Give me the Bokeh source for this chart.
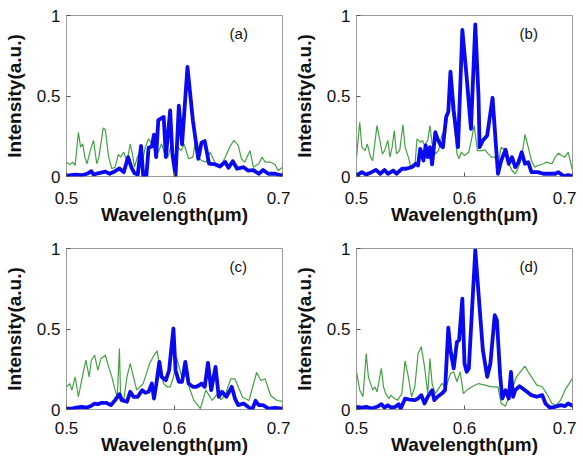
from bokeh.plotting import figure
from bokeh.models import Range1d, FixedTicker, Label
from bokeh.layouts import gridplot
from bokeh.embed import file_html
from bokeh.resources import INLINE

# ---------------- data ----------------
x_ticks = [0.5, 0.6, 0.7]
y_ticks = [0, 0.5, 1]
panel_tags = ["(a)", "(b)", "(c)", "(d)"]

a_blue_x = [0.500,0.508,0.514,0.519,0.523,0.525,0.529,0.536,0.540,0.545,0.549,0.553,0.557,0.560,0.563,0.566,0.569,0.571,0.574,0.576,0.579,0.581,0.583,0.585,0.590,0.592,0.596,0.598,0.601,0.604,0.607,0.612,0.617,0.622,0.625,0.628,0.632,0.638,0.642,0.647,0.650,0.654,0.658,0.664,0.668,0.673,0.678,0.682,0.687,0.693,0.700]
a_blue_y = [0.006,0.012,0.008,0.017,0.033,0.012,0.020,0.030,0.017,0.033,0.050,0.027,0.120,0.058,0.020,0.012,0.190,0.006,0.008,0.178,0.186,0.260,0.120,0.350,0.370,0.120,0.410,0.140,0.006,0.440,0.200,0.680,0.350,0.110,0.210,0.220,0.080,0.075,0.062,0.090,0.054,0.095,0.048,0.058,0.037,0.040,0.017,0.040,0.017,0.017,0.006]
a_green_x = [0.500,0.503,0.506,0.508,0.511,0.513,0.515,0.517,0.519,0.522,0.525,0.528,0.530,0.534,0.536,0.539,0.542,0.545,0.548,0.550,0.553,0.556,0.559,0.561,0.563,0.566,0.570,0.573,0.576,0.578,0.582,0.585,0.588,0.591,0.594,0.597,0.600,0.603,0.606,0.609,0.613,0.617,0.619,0.621,0.625,0.629,0.633,0.638,0.642,0.647,0.651,0.655,0.659,0.662,0.665,0.670,0.673,0.678,0.681,0.684,0.689,0.693,0.696,0.700]
a_green_y = [0.089,0.075,0.089,0.068,0.275,0.182,0.203,0.120,0.079,0.161,0.224,0.079,0.120,0.302,0.290,0.120,0.048,0.058,0.137,0.120,0.151,0.089,0.203,0.141,0.058,0.130,0.089,0.182,0.234,0.213,0.182,0.151,0.203,0.141,0.120,0.203,0.120,0.182,0.161,0.199,0.110,0.120,0.203,0.130,0.099,0.089,0.151,0.079,0.054,0.120,0.182,0.224,0.193,0.110,0.089,0.161,0.058,0.079,0.120,0.089,0.089,0.075,0.037,0.058]

b_blue_x = [0.500,0.505,0.509,0.514,0.518,0.522,0.526,0.529,0.534,0.537,0.542,0.546,0.551,0.555,0.557,0.559,0.562,0.564,0.566,0.568,0.570,0.573,0.575,0.578,0.580,0.583,0.585,0.587,0.590,0.594,0.598,0.602,0.606,0.610,0.613,0.614,0.617,0.621,0.626,0.629,0.631,0.634,0.638,0.641,0.644,0.647,0.650,0.653,0.656,0.659,0.662,0.668,0.673,0.678,0.684,0.687,0.692,0.696,0.700]
b_blue_y = [0.006,0.027,0.012,0.027,0.041,0.017,0.041,0.017,0.037,0.017,0.048,0.048,0.058,0.079,0.068,0.172,0.099,0.193,0.120,0.182,0.075,0.275,0.234,0.193,0.182,0.369,0.400,0.652,0.410,0.182,0.911,0.617,0.296,0.944,0.493,0.182,0.224,0.255,0.489,0.203,0.017,0.099,0.166,0.079,0.120,0.058,0.089,0.151,0.079,0.089,0.027,0.027,0.017,0.017,0.017,0.027,0.002,0.008,0.002]
b_green_x = [0.500,0.503,0.505,0.508,0.510,0.513,0.515,0.519,0.521,0.524,0.526,0.529,0.531,0.533,0.535,0.537,0.540,0.543,0.545,0.548,0.550,0.554,0.556,0.559,0.561,0.563,0.566,0.568,0.570,0.573,0.576,0.579,0.583,0.587,0.590,0.593,0.595,0.597,0.600,0.604,0.606,0.609,0.612,0.616,0.619,0.622,0.625,0.628,0.631,0.634,0.638,0.641,0.644,0.647,0.650,0.653,0.656,0.659,0.662,0.665,0.668,0.673,0.676,0.681,0.684,0.687,0.690,0.693,0.696,0.700]
b_green_y = [0.120,0.337,0.182,0.161,0.203,0.120,0.099,0.317,0.244,0.141,0.161,0.224,0.120,0.182,0.286,0.141,0.161,0.323,0.182,0.120,0.068,0.058,0.234,0.213,0.224,0.193,0.224,0.317,0.203,0.141,0.161,0.255,0.317,0.493,0.348,0.141,0.110,0.151,0.130,0.151,0.213,0.317,0.161,0.161,0.166,0.141,0.120,0.120,0.075,0.182,0.161,0.079,0.037,0.017,0.058,0.120,0.261,0.182,0.099,0.058,0.068,0.079,0.089,0.079,0.120,0.145,0.130,0.120,0.151,0.037]

c_blue_x = [0.500,0.505,0.509,0.514,0.519,0.523,0.526,0.529,0.532,0.537,0.541,0.545,0.549,0.551,0.556,0.559,0.562,0.566,0.570,0.573,0.576,0.579,0.581,0.583,0.586,0.588,0.592,0.595,0.599,0.601,0.604,0.607,0.610,0.613,0.617,0.620,0.623,0.625,0.628,0.631,0.634,0.638,0.641,0.644,0.648,0.653,0.656,0.659,0.664,0.668,0.672,0.675,0.678,0.682,0.687,0.693,0.700]
c_blue_y = [0.006,0.006,0.012,0.017,0.012,0.023,0.037,0.033,0.041,0.041,0.027,0.058,0.095,0.058,0.048,0.110,0.079,0.079,0.120,0.104,0.110,0.161,0.068,0.151,0.296,0.203,0.182,0.244,0.503,0.244,0.172,0.172,0.296,0.161,0.141,0.141,0.151,0.161,0.141,0.290,0.120,0.265,0.079,0.110,0.079,0.141,0.068,0.027,0.037,0.017,0.000,0.054,0.027,0.027,0.006,0.010,0.006]
c_green_x = [0.500,0.503,0.505,0.508,0.511,0.515,0.518,0.521,0.523,0.526,0.529,0.532,0.536,0.539,0.542,0.545,0.547,0.549,0.550,0.553,0.556,0.559,0.562,0.565,0.568,0.571,0.574,0.577,0.581,0.584,0.587,0.590,0.593,0.596,0.599,0.602,0.607,0.611,0.614,0.618,0.624,0.629,0.635,0.640,0.643,0.647,0.652,0.656,0.663,0.669,0.676,0.680,0.684,0.689,0.695,0.700]
c_green_y = [0.141,0.161,0.120,0.203,0.079,0.213,0.306,0.203,0.306,0.337,0.244,0.317,0.337,0.265,0.203,0.120,0.079,0.379,0.099,0.058,0.203,0.286,0.203,0.120,0.141,0.161,0.224,0.286,0.337,0.364,0.224,0.161,0.141,0.140,0.200,0.320,0.200,0.210,0.130,0.056,0.006,0.120,0.056,0.100,0.060,0.090,0.190,0.190,0.076,0.056,0.230,0.180,0.190,0.087,0.056,0.050]

d_blue_x = [0.500,0.505,0.509,0.514,0.519,0.523,0.526,0.529,0.532,0.536,0.539,0.541,0.545,0.549,0.554,0.557,0.560,0.563,0.566,0.570,0.572,0.575,0.579,0.582,0.585,0.587,0.590,0.593,0.595,0.598,0.600,0.602,0.604,0.610,0.613,0.617,0.621,0.624,0.628,0.630,0.633,0.635,0.638,0.641,0.643,0.645,0.647,0.651,0.656,0.662,0.667,0.672,0.675,0.679,0.684,0.689,0.693,0.696,0.700]
d_blue_y = [0.017,0.012,0.017,0.006,0.017,0.033,0.012,0.027,0.012,0.017,0.033,0.006,0.068,0.062,0.058,0.068,0.089,0.037,0.079,0.120,0.058,0.079,0.099,0.120,0.509,0.369,0.255,0.420,0.431,0.689,0.286,0.234,0.255,0.990,0.720,0.369,0.203,0.286,0.586,0.555,0.213,0.068,0.120,0.068,0.234,0.079,0.120,0.145,0.120,0.089,0.079,0.089,0.037,0.012,0.017,0.027,0.021,0.037,0.023]
d_green_x = [0.500,0.503,0.506,0.509,0.511,0.515,0.517,0.519,0.523,0.525,0.527,0.530,0.532,0.535,0.538,0.542,0.545,0.548,0.551,0.554,0.557,0.560,0.563,0.566,0.568,0.570,0.573,0.576,0.579,0.583,0.587,0.590,0.593,0.596,0.599,0.602,0.607,0.613,0.619,0.625,0.631,0.634,0.638,0.641,0.644,0.648,0.653,0.656,0.659,0.662,0.667,0.672,0.676,0.681,0.685,0.689,0.693,0.700]
d_green_y = [0.234,0.120,0.079,0.348,0.203,0.120,0.141,0.110,0.255,0.141,0.099,0.068,0.089,0.068,0.058,0.099,0.302,0.203,0.079,0.141,0.348,0.389,0.265,0.099,0.317,0.161,0.099,0.130,0.161,0.141,0.224,0.234,0.172,0.234,0.099,0.120,0.141,0.161,0.151,0.141,0.141,0.037,0.021,0.079,0.120,0.203,0.244,0.269,0.234,0.203,0.151,0.141,0.099,0.037,0.027,0.058,0.120,0.193]

panels = [
    (a_blue_x, a_blue_y, a_green_x, a_green_y),
    (b_blue_x, b_blue_y, b_green_x, b_green_y),
    (c_blue_x, c_blue_y, c_green_x, c_green_y),
    (d_blue_x, d_blue_y, d_green_x, d_green_y),
]

FONT = "Liberation Sans"
BLUE = "#0a0af0"
GREEN = "#44a044"
FRAME = "#9a9a9a"


def style_axis(ax):
    ax.axis_line_color = None
    ax.major_tick_in = 4
    ax.major_tick_out = 0
    ax.minor_tick_line_color = None
    ax.major_tick_line_color = "#555555"
    ax.major_label_text_font = FONT
    ax.major_label_text_font_size = "17px"
    ax.major_label_text_color = "#111111"
    ax.axis_label_text_font = FONT
    ax.axis_label_text_font_style = "bold"
    ax.axis_label_text_font_size = "19px"
    ax.axis_label_text_color = "#111111"


def make_panel(i):
    bx, by, gx, gy = panels[i]
    left_col = (i % 2 == 0)
    top_row = (i < 2)
    p = figure(
        frame_width=216, frame_height=161,
        x_range=Range1d(0.5, 0.7), y_range=Range1d(0, 1),
        output_backend="svg", toolbar_location=None,
        min_border_left=66,
        min_border_right=8 if left_col else 4,
        min_border_top=15 if top_row else 8,
        min_border_bottom=64 if top_row else 38,
    )
    p.grid.visible = False
    p.outline_line_color = FRAME
    p.outline_line_width = 1
    p.background_fill_color = "white"
    p.border_fill_color = "white"

    p.line(gx, gy, line_color=GREEN, line_width=1.2)
    p.line(bx, by, line_color=BLUE, line_width=3.8, line_join="round")

    xa = p.xaxis[0]
    ya = p.yaxis[0]
    xa.ticker = FixedTicker(ticks=x_ticks)
    ya.ticker = FixedTicker(ticks=y_ticks)
    xa.major_label_overrides = {0.5: "0.5", 0.6: "0.6", 0.7: "0.7"}
    ya.major_label_overrides = {0: "0", 0.5: "0.5", 1: "1"}
    style_axis(xa)
    style_axis(ya)
    xa.axis_label = "Wavelength(\u03bcm)"
    ya.axis_label = "Intensity(a.u.)"
    xa.major_label_standoff = 15 if top_row else 12
    xa.axis_label_standoff = -3
    ya.major_label_standoff = 6
    ya.axis_label_standoff = 9

    p.add_layout(Label(x=0.651, y=0.89, text=panel_tags[i], text_font=FONT,
                       text_font_size="15px", text_color="#111111",
                       text_baseline="middle", text_align="left"))
    return p


figs = [make_panel(i) for i in range(4)]
grid = gridplot([[figs[0], figs[1]], [figs[2], figs[3]]], toolbar_location=None)

open("out.html", "w").write(file_html(grid, INLINE))
